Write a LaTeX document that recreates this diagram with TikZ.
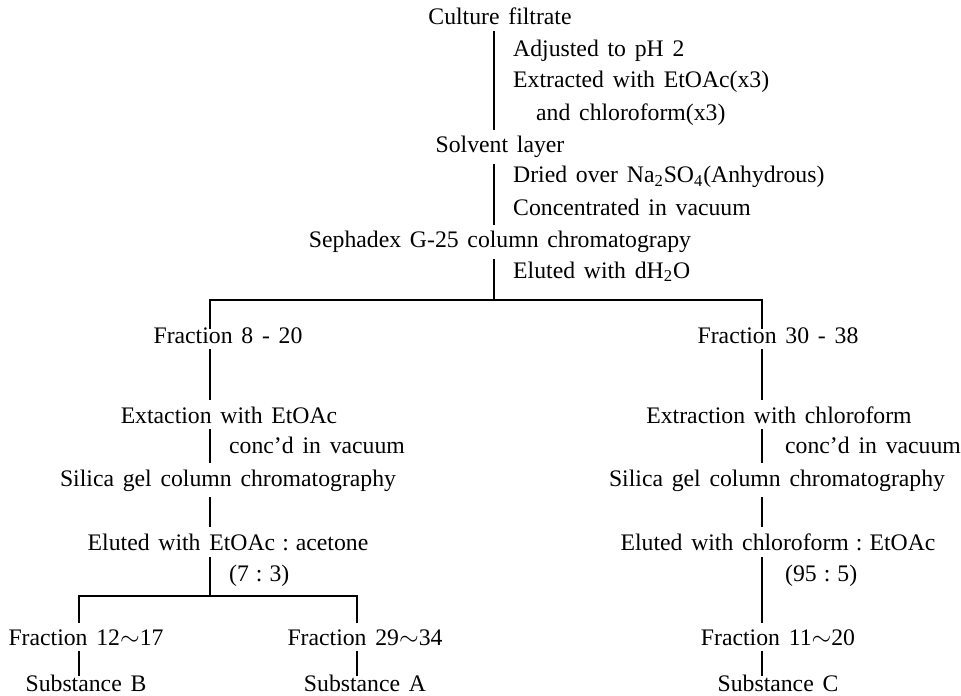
\documentclass[tikz,border=0pt]{standalone}
\usepackage{fontspec}
\setmainfont{Liberation Serif}
\usetikzlibrary{positioning}
\newcommand\fuente{\fontsize{13.5}{16}\selectfont\spaceskip=5pt\relax}
\newcommand\dospuntos{\kern4pt:\kern4pt}

\begin{document}
\begin{tikzpicture}[x=0.02cm, y=-0.02cm,
        txt/.style={font=\fuente, anchor=base},
        nota/.style={txt, anchor=base west},
        linea/.style={line width=0.7pt},
        baja/.style={linea, shorten >=-4.5pt}]
            % Marco de la figura
            \useasboundingbox (0,0) rectangle (961,696);

            % Ejes verticales de las lineas
            \coordinate (ejeA) at (494,0);
            \coordinate (ejeB) at (210,0);
            \coordinate (ejeC) at (762,0);
            \coordinate (ejeD) at (79,0);
            \coordinate (ejeE) at (357,0);

            % Tronco principal
            \node[txt] (cultivo) at (500,25) {Culture filtrate};
            \node[nota] (ajuste) at (507,57) {Adjusted to pH 2};
            \node[nota] (extr) at (507,88) {Extracted with EtOAc(x3)};
            \node[nota] (cloro) at (530,121) {and chloroform(x3)};
            \node[txt] (solvente) at (500,153) {Solvent layer};
            \node[nota] (secado) at (507,183) {Dried over Na\textsubscript{2}SO\textsubscript{4}(Anhydrous)};
            \node[nota] (concent) at (507,215) {Concentrated in vacuum};
            \node[txt] (sephadex) at (500,248) {Sephadex G-25 column chromatograpy};
            \node[nota] (eluido) at (507,278) {Eluted with dH\textsubscript{2}O};
            \coordinate (ramas) at (494,300);

            \draw[linea] (cultivo.south -| ejeA) -- (solvente.north -| ejeA);
            \draw[linea] (solvente.south -| ejeA) -- (sephadex.north -| ejeA);
            \draw[linea] (sephadex.south -| ejeA) -- (ramas);

            % Rama izquierda
            \node[txt] (fracA) at (228,343) {Fraction 8 - 20};
            \node[txt] (extA) at (229,423) {Extaction with EtOAc};
            \node[nota] (concA) at (223,453) {conc'd in vacuum};
            \node[txt] (silA) at (228,486) {Silica gel column chromatography};
            \node[txt] (eluA) at (228,550) {Eluted with EtOAc\dospuntos acetone};
            \node[nota] (propA) at (223,581) {(7\dospuntos 3)};
            \coordinate (ramasA) at (210,596);

            % Rama derecha
            \node[txt] (fracB) at (778,343) {Fraction 30 - 38};
            \node[txt] (extB) at (779,423) {Extraction with chloroform};
            \node[nota] (concB) at (779,453) {conc'd in vacuum};
            \node[txt] (silB) at (777,486) {Silica gel column chromatography};
            \node[txt] (eluB) at (778,550) {Eluted with chloroform\dospuntos EtOAc};
            \node[nota] (propB) at (779,581) {(95\dospuntos 5)};

            % Separacion en dos ramas
            \draw[baja] (ramas) -| (fracA.north -| ejeB);
            \draw[baja] (ramas) -| (fracB.north -| ejeC);

            \draw[linea] (fracA.south -| ejeB) -- (extA.north -| ejeB);
            \draw[linea] (extA.south -| ejeB) -- (silA.north -| ejeB);
            \draw[linea] (silA.south -| ejeB) -- (eluA.north -| ejeB);
            \draw[linea] (eluA.south -| ejeB) -- (ramasA);

            \draw[linea] (fracB.south -| ejeC) -- (extB.north -| ejeC);
            \draw[linea] (extB.south -| ejeC) -- (silB.north -| ejeC);
            \draw[linea] (silB.south -| ejeC) -- (eluB.north -| ejeC);

            % Fracciones finales
            \node[txt] (fr1) at (86,645) {Fraction 12$\sim$17};
            \node[txt] (subB) at (86,691) {Substance B};
            \node[txt] (fr2) at (365,645) {Fraction 29$\sim$34};
            \node[txt] (subA) at (365,691) {Substance A};
            \node[txt] (fr3) at (778,645) {Fraction 11$\sim$20};
            \node[txt] (subC) at (778,691) {Substance C};

            \draw[linea] (ramasA) -| (fr1.north -| ejeD);
            \draw[linea] (ramasA) -| (fr2.north -| ejeE);
            \draw[baja] (fr1.south -| ejeD) -- (subB.north -| ejeD);
            \draw[baja] (fr2.south -| ejeE) -- (subA.north -| ejeE);
            \draw[linea] (eluB.south -| ejeC) -- (fr3.north -| ejeC);
            \draw[baja] (fr3.south -| ejeC) -- (subC.north -| ejeC);
        \end{tikzpicture}
\end{document}
